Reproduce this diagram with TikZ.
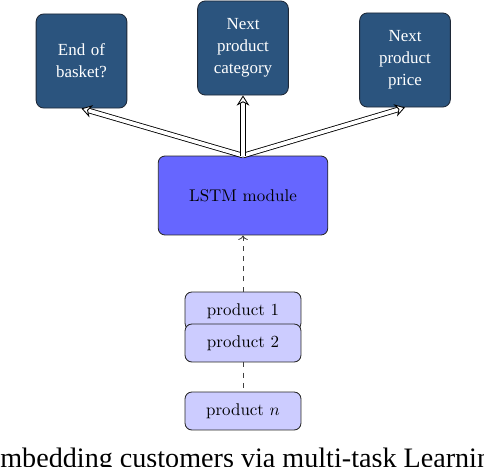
\documentclass[tikz,border=0pt]{standalone}
\usepackage{fontspec}
\newfontfamily\timesf{Liberation Serif}
\usetikzlibrary{arrows.meta}
\definecolor{taskblue}{RGB}{43,84,126}
\definecolor{taskedge}{RGB}{30,40,55}
\definecolor{lstmblue}{RGB}{102,102,255}
\definecolor{prodblue}{RGB}{204,204,255}
\tikzset{
  taskbox/.style={draw=taskedge, line width=0.5pt, fill=taskblue, rounded corners=4.5pt,
    minimum width=53.5pt, minimum height=55.5pt, inner sep=2pt, align=center,
    text=white, font=\timesf\fontsize{10pt}{13pt}\selectfont, text width=48pt},
  lstmbox/.style={draw=black!85, line width=0.5pt, fill=lstmblue, rounded corners=4pt,
    minimum width=100pt, minimum height=46.6pt, inner sep=0pt},
  prodbox/.style={draw=black!85, line width=0.5pt, fill=prodblue, rounded corners=4pt,
    minimum width=68.4pt, minimum height=22.4pt, inner sep=0pt},
  dbl/.style={draw=black, double=white, double distance=2.2pt, line width=0.5pt,
    -{Stealth[open, length=6pt, width=7.5pt, inset=2pt, line width=0.5pt, fill=white]}},
  dsh/.style={draw=black!75, line width=0.5pt, dashed},
}
\begin{document}
\begin{tikzpicture}[x=0.59pt, y=-0.59pt]
\useasboundingbox (0,0) rectangle (484,466);
\node[taskbox] (eob) at (81.5,61) {End of\\basket?};
\node[taskbox] (cat) at (243,48) {Next\\product\\category};
\node[taskbox] (price) at (405,60) {Next\\product\\price};
\node[lstmbox] (lstm) at (243,195.5) {LSTM module};
\node[prodbox] (p1) at (243,311) {product 1};
\node[prodbox] (p2) at (243,343) {product 2};
\node[prodbox] (pn) at (243,411) {product $n$};
\draw[dbl] (lstm.north) -- (eob.south);
\draw[dbl] (lstm.north) -- (price.south);
\draw[dbl] (lstm.north) -- (cat.south);
\draw[dsh,->] (p1.north) -- (lstm.south);
\draw[dsh] (p2.south) -- (pn.north);
\node[anchor=base west, inner sep=0pt, font=\timesf\fontsize{16.6pt}{20pt}\selectfont] (cap) at (0,467) {\llap{E}mbedding customers via multi-task Learning};
\end{tikzpicture}
\end{document}
